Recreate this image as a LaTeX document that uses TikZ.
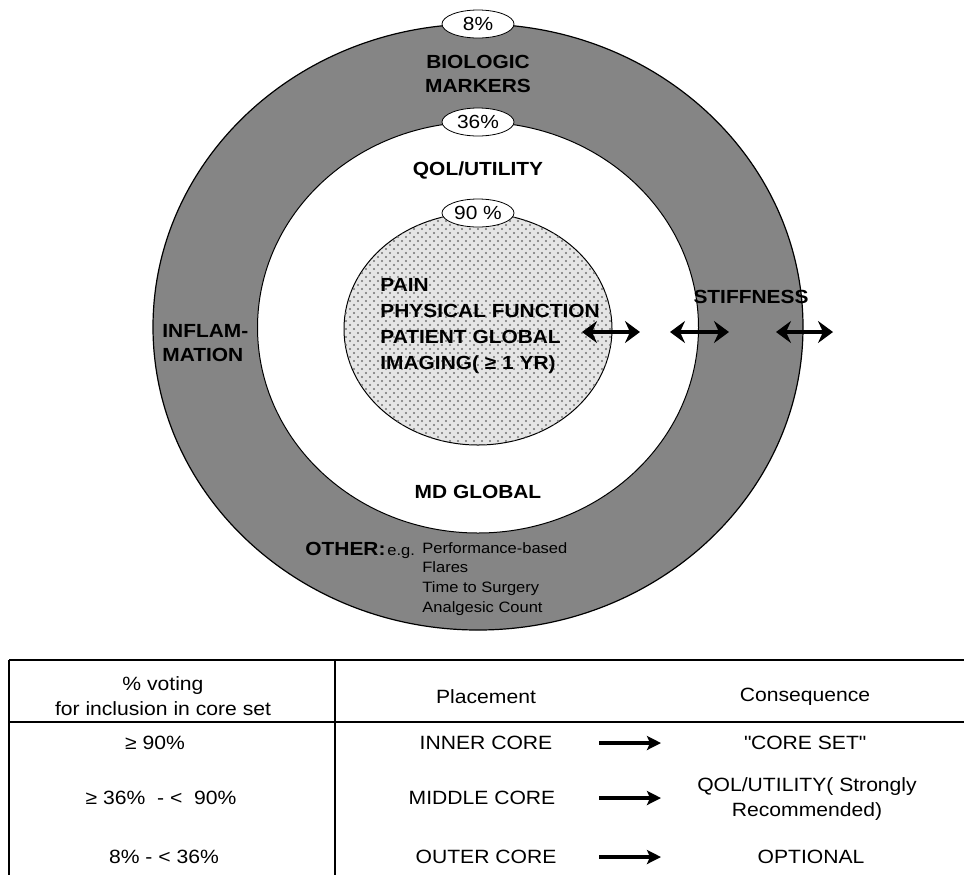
\documentclass[tikz,border=0pt]{standalone}
\usepackage{fontspec}
\setmainfont[FakeStretch=1.1]{Liberation Sans}
\usetikzlibrary{shapes, arrows.meta, patterns}

\definecolor{ringgray}{gray}{0.52}
\definecolor{coregray}{gray}{0.9}

\pgfdeclarepatternformonly{coredots}{\pgfqpoint{-1pt}{-1pt}}{\pgfqpoint{5pt}{5pt}}{\pgfqpoint{4pt}{4pt}}{%
    \pgfpathcircle{\pgfqpoint{1pt}{1pt}}{0.55pt}%
    \pgfpathcircle{\pgfqpoint{3pt}{3pt}}{0.55pt}%
    \pgfusepath{fill}}

\begin{document}
\begin{tikzpicture}[x=0.5pt, y=-0.5pt,
    pct/.style = {draw, ellipse, fill=white, minimum width=36pt, minimum height=14pt, inner sep=0pt, font=\fontsize{9.5pt}{11pt}\selectfont},
    lbl/.style = {inner sep=0pt, font=\fontsize{9.5pt}{12pt}\selectfont\bfseries},
    small/.style = {inner sep=0pt, font=\fontsize{7.5pt}{9.85pt}\selectfont},
    cell/.style = {inner sep=0pt, align=center, font=\fontsize{9.6pt}{12.5pt}\selectfont},
    both/.style = {{Stealth[length=7.5pt, width=11pt, inset=2.5pt]}-{Stealth[length=7.5pt, width=11pt, inset=2.5pt]}, line width=1.6pt},
    goes/.style = {-{Stealth[length=7pt, width=7pt, inset=1.5pt]}, line width=1.7pt}]
    \useasboundingbox (0,0) rectangle (964,875);

    \draw[fill=ringgray, line width=0.6pt] (478,327) ellipse [x radius=162.5pt, y radius=151.5pt];
    \draw[fill=white, line width=0.5pt] (478,327.5) ellipse [x radius=110.25pt, y radius=102.75pt];
    \draw[fill=coregray, line width=0.5pt] (478,329) ellipse [x radius=67pt, y radius=58pt];
    \fill[pattern=coredots, pattern color=black!55] (478,329) ellipse [x radius=67pt, y radius=58pt];

    \node[pct] at (478, 24) (P8) {8\%};
    \node[pct] at (478, 122) (P36) {36\%};
    \node[pct] at (478, 213) (P90) {90 \%};

    \node[lbl, align=center] at (478, 74) (BM) {BIOLOGIC\\MARKERS};
    \node[lbl] at (478, 170) (QOL) {QOL/UTILITY};
    \node[lbl] at (478, 492) (MD) {MD GLOBAL};
    \node[lbl] at (751, 297) (ST) {STIFFNESS};
    \node[lbl, align=left, anchor=west] at (162, 343) (INF) {INFLAM-\\MATION};
    \node[lbl, align=left, anchor=west, font=\fontsize{9.5pt}{12.9pt}\selectfont\bfseries] at (380, 326) (CORE) {PAIN\\PHYSICAL FUNCTION\\PATIENT GLOBAL\\IMAGING( ≥ 1 YR)};

    \node[lbl, anchor=base west] at (305, 555) (OTH) {OTHER:};
    \node[small, anchor=base west] at (387, 555) (EG) {e.g.};
    \node[small, align=left, anchor=north west] at (422, 542) (LIST) {Performance-based\\Flares\\Time to Surgery\\Analgesic Count};

    \coordinate (A1) at (582, 332);
    \coordinate (B1) at (640, 332);
    \coordinate (A2) at (670, 332);
    \coordinate (B2) at (729, 332);
    \coordinate (A3) at (776, 332);
    \coordinate (B3) at (833, 332);
    \draw[both] (A1) -- (B1);
    \draw[both] (A2) -- (B2);
    \draw[both] (A3) -- (B3);

    \draw[line width=0.9pt] (9,660) -- (964,660);
    \draw[line width=0.9pt] (9,722) -- (964,722);
    \draw[line width=0.9pt] (9,660) -- (9,875);
    \draw[line width=0.9pt] (335,660) -- (335,875);

    \node[cell] at (163, 696) (VOTE) {\% voting\\for inclusion in core set};
    \node[cell] at (486, 697) (PLACE) {Placement};
    \node[cell] at (805, 697) (CONS) {Consequence};

    \node[cell] at (155, 743) (V1) {≥ 90\%};
    \node[cell] at (161, 798) (V2) {≥ 36\%~~-~<~~90\%};
    \node[cell] at (164, 857) (V3) {8\% - < 36\%};

    \node[cell] at (486, 743) (IN) {INNER CORE};
    \node[cell] at (482, 798) (MID) {MIDDLE CORE};
    \node[cell] at (486, 857) (OUT) {OUTER CORE};

    \node[cell] at (805, 743) (C1) {\textquotedbl CORE SET\textquotedbl};
    \node[cell] at (807, 799) (C2) {QOL/UTILITY( Strongly\\Recommended)};
    \node[cell] at (811, 857) (C3) {OPTIONAL};

    \coordinate (S1) at (599, 743);
    \coordinate (E1) at (661, 743);
    \coordinate (S2) at (599, 798);
    \coordinate (E2) at (661, 798);
    \coordinate (S3) at (599, 857);
    \coordinate (E3) at (661, 857);
    \draw[goes] (S1) -- (E1);
    \draw[goes] (S2) -- (E2);
    \draw[goes] (S3) -- (E3);
\end{tikzpicture}
\end{document}
